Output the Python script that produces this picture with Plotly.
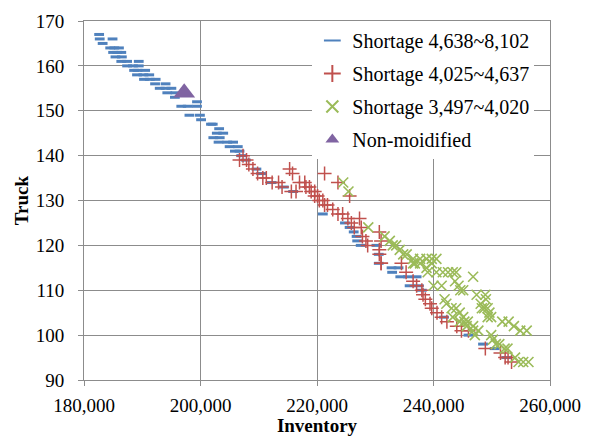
import plotly.graph_objects as go

# Shortage 4,638~8,102 (blue dashes)
blue_x = [182600, 182700, 184900, 183200,
          184500, 185200, 186000,
          185000, 185700, 186400,
          185400, 186500,
          186400, 187400, 189400,
          187400, 188400, 189400,
          188600, 189200, 190500,
          189100, 190200, 191200,
          190300, 191300, 192300,
          192200, 194000,
          193000, 194000, 195000,
          194300, 195700,
          195600, 199400,
          196700, 197800, 199400,
          198100, 199900, 200100,
          201800, 202100, 203200,
          202800, 203900, 202200, 203300,
          203100, 204600, 205600,
          205000, 206400, 205900, 206700,
          207000, 207800, 209600, 210400,
          212200, 214300, 215900, 221000,
          224800, 225600, 226300, 226800, 226900,
          227500, 230200, 230600, 230600,
          232800, 234000, 232900,
          234300, 235600, 237100, 235900,
          237500, 238000, 241800,
          246000, 248500, 250500, 252500]
blue_y = [167, 166, 166, 165,
          164, 164, 164,
          163, 163, 163,
          162, 162,
          161, 161, 161,
          160, 160, 160,
          159, 159, 159,
          158, 158, 158,
          157, 157, 157,
          156, 156,
          155, 155, 155,
          154, 154,
          153, 152,
          151, 151, 151,
          149, 149, 148,
          147, 147, 146,
          145, 145, 144, 144,
          143, 143, 143,
          142, 142, 141, 141,
          140, 139, 137, 136,
          134, 133, 132, 127,
          125, 124, 123, 122, 121,
          120, 120, 118, 116,
          115, 115, 114,
          113, 113, 113, 111,
          111, 110, 104,
          100, 98, 97, 95]

# Shortage 4,025~4,637 (red plus)
red_x = [207300, 206700, 207900, 208300, 209000, 209800, 210700, 211300,
         212300, 213400, 214000, 215300, 215800, 215600, 216400,
         217000, 217900, 218100, 219000, 219600, 220400, 221300, 221300,
         223600, 225600, 218700, 219600, 220100, 221000, 221800, 222700,
         223600, 224400, 225300, 225900, 226400, 227600, 227800, 228400,
         228700, 230700, 231000, 230700, 231000, 230700, 231000, 234500,
         235300, 236500, 237100, 238000, 238200, 238600, 239400, 239700,
         240600, 241400, 242300, 244000, 244800, 246000, 248900, 251500,
         252300, 252800, 253400, 227300]
red_y = [140, 139, 139, 138, 137, 136, 135, 135,
         134, 134, 133, 137, 136, 132, 132,
         134, 134, 133, 132, 131, 130, 129, 136,
         134, 131, 133, 132, 131, 130, 129, 128,
         127, 127, 126, 125, 124, 124, 122, 121,
         120, 123, 121, 118, 116, 119, 116, 116,
         114, 112, 111, 110, 109, 108, 107, 106,
         105, 104, 103, 102, 101, 101, 97, 96,
         95, 95, 94, 126]

# Shortage 3,497~4,020 (green x)
green_x = [224500, 225400, 228800,
           231600, 232500, 233000, 233600, 234200, 234800, 235400,
           236500, 237700, 238800, 239700, 240500,
           236800, 237700, 238800, 239700,
           239000, 240500, 241600, 242500, 243300, 243900, 246800,
           240000, 241400, 243700, 244300, 245100, 244600,
           247400, 248900,
           241900, 242200, 243100, 243900, 244500, 245100,
           243300, 244500, 245300, 245900, 246800, 245700, 246800, 247700, 247100,
           249000, 248700, 249300, 249600, 249900, 249300, 248100, 248300,
           251800, 252900, 253800, 254900, 256000,
           249900, 250200, 250700, 251300, 252200, 252700,
           254000, 254600, 255400, 256300, 236500]
green_y = [134, 132, 124,
           122, 121, 120, 120, 119, 118, 118,
           117, 117, 117, 117, 117,
           116, 116, 115, 116,
           114, 114, 114, 114, 114, 114, 113,
           111, 111, 112, 111, 110, 110,
           109, 109,
           108, 107, 106, 106, 105, 104,
           104, 103, 103, 103, 102, 102, 101, 101, 100,
           108, 106, 106, 105, 104, 104, 107, 106,
           103, 103, 102, 101, 101,
           100, 99, 98, 98, 97, 97,
           95, 94, 94, 94, 116]

# Non-moidified
base_x = [197200]
base_y = [154]

FONT = "Liberation Serif, Times New Roman, serif"
GRID = "#8c8c8c"

fig = go.Figure()
fig.add_trace(go.Scatter(
    x=blue_x, y=blue_y, mode="markers", name="Shortage 4,638~8,102",
    legendgroup="a",
    marker=dict(symbol="line-ew", size=7, color="#4F81BD",
                line=dict(color="#4F81BD", width=3))))
fig.add_trace(go.Scatter(
    x=red_x, y=red_y, mode="markers", name="Shortage 4,025~4,637",
    legendgroup="b",
    marker=dict(symbol="cross-thin", size=10, color="#C0504D",
                line=dict(color="#C0504D", width=1.5))))
fig.add_trace(go.Scatter(
    x=green_x, y=green_y, mode="markers", name="Shortage 3,497~4,020",
    legendgroup="c",
    marker=dict(symbol="x-thin", size=10, color="#9BBB59",
                line=dict(color="#9BBB59", width=1.6))))
fig.add_trace(go.Scatter(
    x=base_x, y=base_y, mode="markers", name="Non-moidified",
    legendgroup="d",
    marker=dict(symbol="triangle-up", size=19, color="#8064A2")))

fig.update_layout(
    width=593, height=436,
    margin=dict(l=84, r=43, t=21, b=56),
    paper_bgcolor="white", plot_bgcolor="white",
    font=dict(family=FONT, size=19, color="black"),
    showlegend=True,
    legend=dict(x=0.49, y=1.0, xanchor="left", yanchor="top",
                bgcolor="white", borderwidth=0,
                font=dict(family=FONT, size=20, color="black"),
                tracegroupgap=4, itemsizing="constant"),
    xaxis=dict(range=[180000, 260000], dtick=20000, tickformat=",d",
               showgrid=True, gridcolor=GRID, gridwidth=1,
               showline=True, linecolor=GRID, linewidth=1, mirror=True,
               ticks="outside", ticklen=5, tickcolor=GRID,
               zeroline=False, ticklabelstandoff=3, automargin=False,
               tickfont=dict(family=FONT, size=19),
               title=dict(text="<b>Inventory</b>", standoff=1,
                          font=dict(family=FONT, size=19))),
    yaxis=dict(range=[90, 170], dtick=10,
               showgrid=True, gridcolor=GRID, gridwidth=1,
               showline=True, linecolor=GRID, linewidth=1, mirror=True,
               ticks="outside", ticklen=5, tickcolor=GRID,
               zeroline=False, ticklabelstandoff=10, automargin=False,
               tickfont=dict(family=FONT, size=19),
               title=dict(text="<b>Truck</b>", standoff=2,
                          font=dict(family=FONT, size=19))),
)

fig.write_html("out.html")
